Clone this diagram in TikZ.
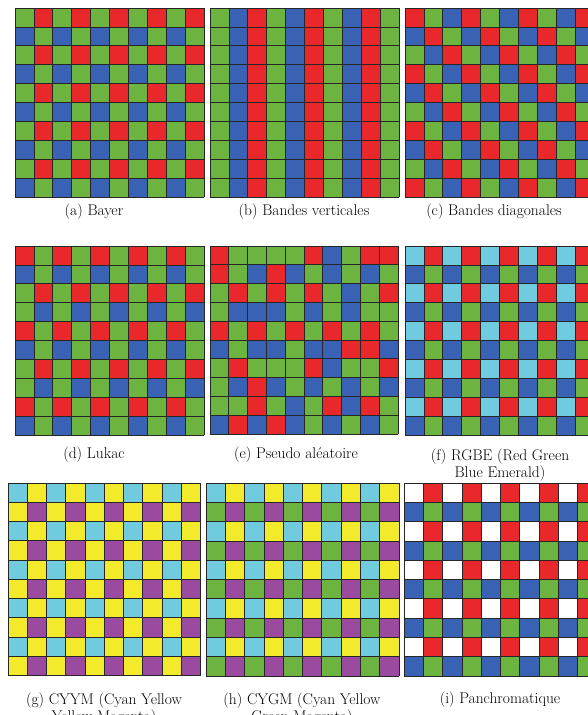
\documentclass[tikz,border=0pt]{standalone}
\usepackage{xcolor}
\usepackage{tikz}
\usetikzlibrary{calc}

\definecolor{cR}{HTML}{E8282B}
\definecolor{cG}{HTML}{6DB33F}
\definecolor{cB}{HTML}{3A62B4}
\definecolor{cC}{HTML}{6FCBDD}
\definecolor{cY}{HTML}{F2EA2B}
\definecolor{cM}{HTML}{9A4B9F}
\definecolor{cW}{HTML}{FFFFFF}

\tikzset{
  caption/.style={font=\fontsize{15.5}{17.5}\selectfont, align=center, inner sep=0},
  cellline/.style={black!85, line width=.8}
}

% #1,#2 = top left corner, #3 = cell size, #4 = rows of colours
\newcommand{\cfa}[4]{%
  \foreach \rw [count=\i from 0] in {#4} {
    \foreach \c [count=\j from 0] in \rw {
      \fill[c\c] (#1+\j*#3, #2+\i*#3) rectangle ++(#3,#3);
    }
  }
  \foreach \k in {0,...,10} {
    \draw[cellline] (#1+\k*#3, #2) --++(0,10*#3);
    \draw[cellline] (#1, #2+\k*#3) --++(10*#3,0);
  }
}

\begin{document}
\begin{tikzpicture}[x=1pt, y=-1pt]
\useasboundingbox (0,0) rectangle (587,715);

% first row
\cfa{15}{8}{18.9}{{G,R,G,R,G,R,G,R,G,R},{B,G,B,G,B,G,B,G,B,G},
  {G,R,G,R,G,R,G,R,G,R},{B,G,B,G,B,G,B,G,B,G},
  {G,R,G,R,G,R,G,R,G,R},{B,G,B,G,B,G,B,G,B,G},
  {G,R,G,R,G,R,G,R,G,R},{B,G,B,G,B,G,B,G,B,G},
  {G,R,G,R,G,R,G,R,G,R},{B,G,B,G,B,G,B,G,B,G}}
\cfa{210}{8}{18.9}{{G,B,R,G,B,R,G,B,R,G},{G,B,R,G,B,R,G,B,R,G},
  {G,B,R,G,B,R,G,B,R,G},{G,B,R,G,B,R,G,B,R,G},
  {G,B,R,G,B,R,G,B,R,G},{G,B,R,G,B,R,G,B,R,G},
  {G,B,R,G,B,R,G,B,R,G},{G,B,R,G,B,R,G,B,R,G},
  {G,B,R,G,B,R,G,B,R,G},{G,B,R,G,B,R,G,B,R,G}}
\cfa{405}{8}{18.9}{{R,G,B,R,G,B,R,G,B,R},{B,R,G,B,R,G,B,R,G,B},
  {G,B,R,G,B,R,G,B,R,G},{R,G,B,R,G,B,R,G,B,R},
  {B,R,G,B,R,G,B,R,G,B},{G,B,R,G,B,R,G,B,R,G},
  {R,G,B,R,G,B,R,G,B,R},{B,R,G,B,R,G,B,R,G,B},
  {G,B,R,G,B,R,G,B,R,G},{R,G,B,R,G,B,R,G,B,R}}

\node[caption] (capa) at (94,212) {(a) Bayer};
\node[caption] (capb) at (304,212) {(b) Bandes verticales};
\node[caption] (capc) at (494,212) {(c) Bandes diagonales};

% second row
\cfa{15}{246}{18.9}{{R,G,R,G,R,G,R,G,R,G},{B,G,B,G,B,G,B,G,B,G},
  {G,R,G,R,G,R,G,R,G,R},{G,B,G,B,G,B,G,B,G,B},
  {R,G,R,G,R,G,R,G,R,G},{B,G,B,G,B,G,B,G,B,G},
  {G,R,G,R,G,R,G,R,G,R},{G,B,G,B,G,B,G,B,G,B},
  {R,G,R,G,R,G,R,G,R,G},{B,G,B,G,B,G,B,G,B,G}}
\cfa{210}{246}{18.8}{{R,G,G,G,G,R,B,G,R,R},{R,G,B,R,B,G,B,G,B,G},
  {G,R,G,R,G,R,G,B,G,R},{G,B,B,B,G,B,G,B,G,G},
  {R,G,R,G,R,G,R,G,R,G},{B,G,B,B,G,B,B,R,R,B},
  {G,R,G,G,G,R,B,G,G,R},{G,B,R,B,G,B,G,B,G,B},
  {G,G,R,G,B,G,R,B,R,G},{B,R,B,R,B,G,B,G,B,G}}
\cfa{405}{246}{18.9}{{C,R,C,R,C,R,C,R,C,R},{B,G,B,G,B,G,B,G,B,G},
  {C,R,C,R,C,R,C,R,C,R},{B,G,B,G,B,G,B,G,B,G},
  {C,R,C,R,C,R,C,R,C,R},{B,G,B,G,B,G,B,G,B,G},
  {C,R,C,R,C,R,C,R,C,R},{B,G,B,G,B,G,B,G,B,G},
  {C,R,C,R,C,R,C,R,C,R},{B,G,B,G,B,G,B,G,B,G}}

\node[caption] (capd) at (94,455) {(d) Lukac};
\node[caption] (cape) at (296,455) {(e) Pseudo aléatoire};
\node[caption] (capf) at (500,465) {(f) RGBE (Red Green\\Blue Emerald)};

% third row
\cfa{8}{483}{19.25}{{C,Y,C,Y,C,Y,C,Y,C,Y},{Y,M,Y,M,Y,M,Y,M,Y,M},
  {C,Y,C,Y,C,Y,C,Y,C,Y},{Y,M,Y,M,Y,M,Y,M,Y,M},
  {C,Y,C,Y,C,Y,C,Y,C,Y},{Y,M,Y,M,Y,M,Y,M,Y,M},
  {C,Y,C,Y,C,Y,C,Y,C,Y},{Y,M,Y,M,Y,M,Y,M,Y,M},
  {C,Y,C,Y,C,Y,C,Y,C,Y},{Y,M,Y,M,Y,M,Y,M,Y,M}}
\cfa{206}{483}{19.3}{{C,Y,C,Y,C,Y,C,Y,C,Y},{G,M,G,M,G,M,G,M,G,M},
  {C,Y,C,Y,C,Y,C,Y,C,Y},{G,M,G,M,G,M,G,M,G,M},
  {C,Y,C,Y,C,Y,C,Y,C,Y},{G,M,G,M,G,M,G,M,G,M},
  {C,Y,C,Y,C,Y,C,Y,C,Y},{G,M,G,M,G,M,G,M,G,M},
  {C,Y,C,Y,C,Y,C,Y,C,Y},{G,M,G,M,G,M,G,M,G,M}}
\cfa{404}{483}{19.3}{{W,R,W,R,W,R,W,R,W,R},{B,G,B,G,B,G,B,G,B,G},
  {W,R,W,R,W,R,W,R,W,R},{B,G,B,G,B,G,B,G,B,G},
  {W,R,W,R,W,R,W,R,W,R},{B,G,B,G,B,G,B,G,B,G},
  {W,R,W,R,W,R,W,R,W,R},{B,G,B,G,B,G,B,G,B,G},
  {W,R,W,R,W,R,W,R,W,R},{B,G,B,G,B,G,B,G,B,G}}

\node[caption] (capg) at (104,709) {(g) CYYM (Cyan Yellow\\Yellow Magenta)};
\node[caption] (caph) at (302,709) {(h) CYGM (Cyan Yellow\\Green Magenta)};
\node[caption] (capi) at (500,700) {(i) Panchromatique};
\end{tikzpicture}
\end{document}
